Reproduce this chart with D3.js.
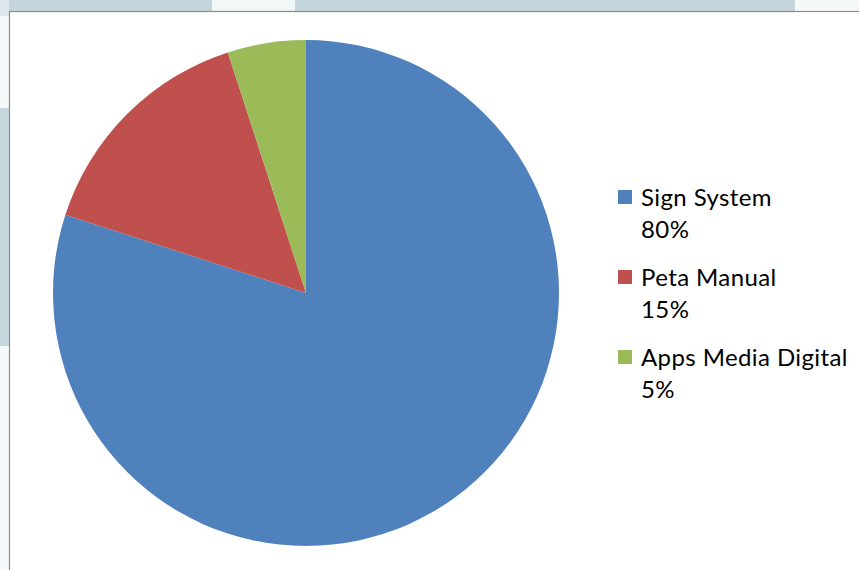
<!DOCTYPE html>
<html><head><meta charset="utf-8">
<script src="https://cdn.jsdelivr.net/npm/d3@7"></script>
<style>html,body{margin:0;padding:0;background:#fff;}svg{display:block;}</style>
</head><body>
<svg id="c" width="859" height="570"></svg>
<script>
const categories = ["Sign System", "Peta Manual", "Apps Media Digital"];
const values = [80, 15, 5];
const labels = ["80%", "15%", "5%"];
const colors = ["#4f81bd", "#c0504d", "#9bbb59"];

const svg = d3.select("#c");
// background surrounding strips
svg.append("rect").attr("x",0).attr("y",0).attr("width",859).attr("height",11).attr("fill","#c4d5dc");
svg.append("rect").attr("x",212).attr("y",0).attr("width",83).attr("height",11).attr("fill","#f2f7f8");
svg.append("rect").attr("x",795).attr("y",0).attr("width",64).attr("height",11).attr("fill","#f6f9fa");
svg.append("rect").attr("x",0).attr("y",0).attr("width",9).attr("height",570).attr("fill","#f6f9fa");
svg.append("rect").attr("x",0).attr("y",0).attr("width",9).attr("height",16).attr("fill","#dfe8ec");
svg.append("rect").attr("x",0).attr("y",108).attr("width",9).attr("height",238).attr("fill","#c6d7dd");
// chart area
svg.append("rect").attr("x",9.5).attr("y",11.5).attr("width",860).attr("height",570)
  .attr("fill","#fff").attr("stroke","#8c8c8c").attr("stroke-width",1.2);

const cx = 306, cy = 293, r = 253;
const pie = d3.pie().sort(null).value(d => d).startAngle(0).endAngle(2*Math.PI);
const arc = d3.arc().innerRadius(0).outerRadius(r);
const g = svg.append("g").attr("transform", `translate(${cx},${cy})`);
g.selectAll("path").data(pie(values)).join("path")
  .attr("d", arc).attr("fill", (d,i) => colors[i]);

const leg = svg.append("g").attr("transform","translate(618,190)");
const items = leg.selectAll("g").data(categories).join("g")
  .attr("transform", (d,i) => `translate(0,${i*80})`);
items.append("rect").attr("width",14).attr("height",14).attr("fill",(d,i)=>colors[i]);
const font = "Lato, 'Open Sans', sans-serif";
items.append("text").attr("x",23).attr("y",16).text(d=>d)
  .attr("font-family",font).attr("font-size",24).attr("letter-spacing",0.4).attr("fill","#000");
items.append("text").attr("x",23).attr("y",48).text((d,i)=>labels[i])
  .attr("font-family",font).attr("font-size",24).attr("letter-spacing",0.4).attr("fill","#000");
</script>
</body></html>
